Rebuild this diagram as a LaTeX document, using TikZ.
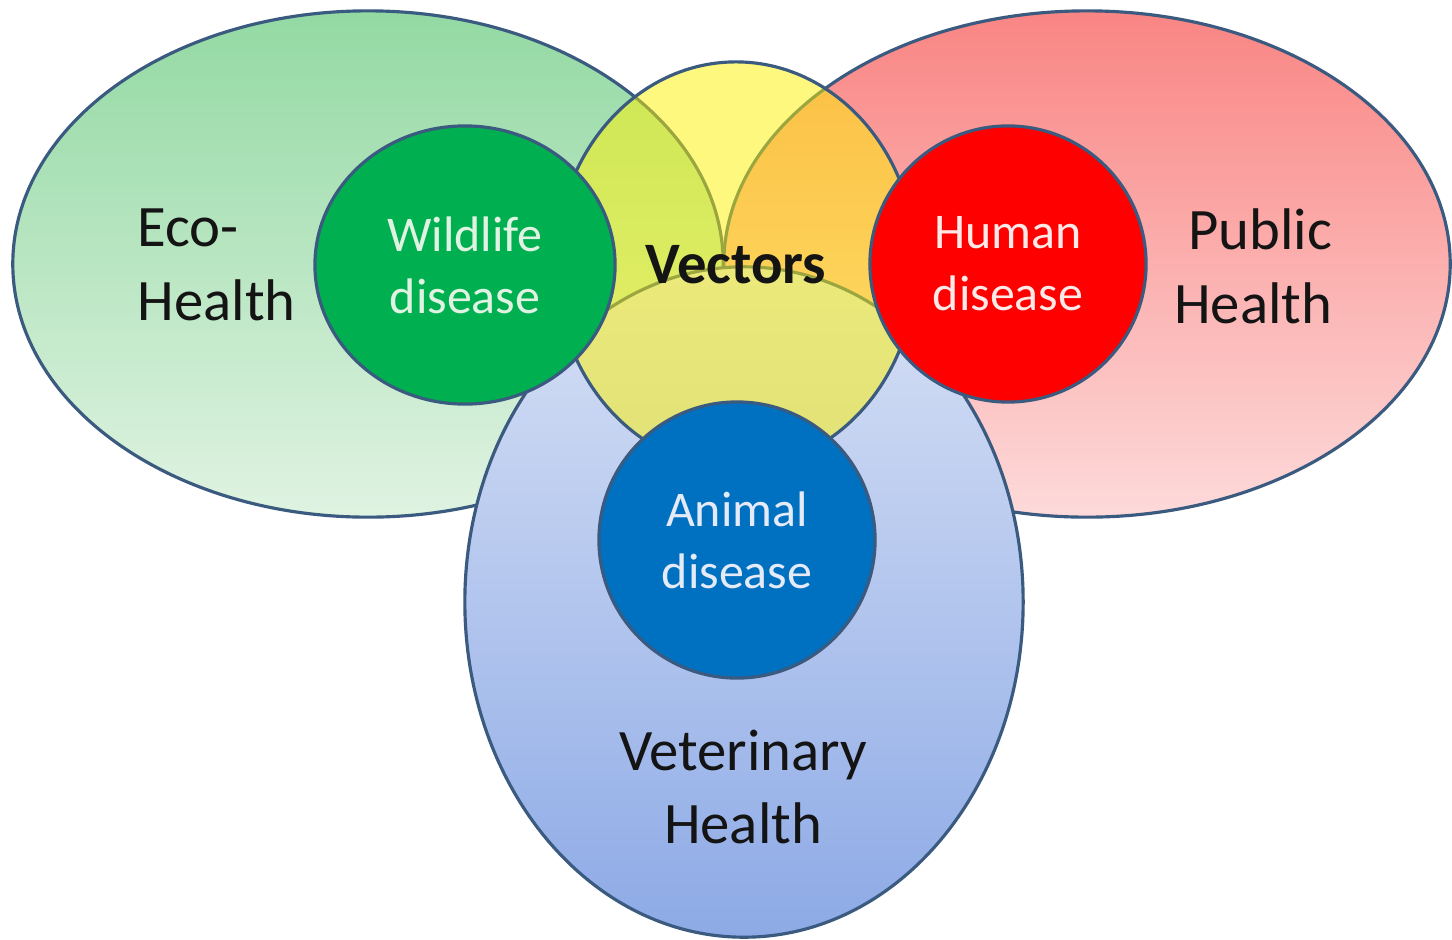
\documentclass[tikz,border=0pt]{standalone}
\usepackage{fontspec}
\setmainfont{Carlito}
\usepackage{tikz}
\usetikzlibrary{shapes.geometric}
\definecolor{contour}{HTML}{3A5A80}
\definecolor{vertclair}{HTML}{93D9A3}
\definecolor{vertpale}{HTML}{E0F3E2}
\definecolor{rougeclair}{HTML}{F98583}
\definecolor{rougepale}{HTML}{FDDADA}
\definecolor{bleupale}{HTML}{D8E1F5}
\definecolor{bleuclair}{HTML}{8DAAE6}
\definecolor{vertvif}{HTML}{00B050}
\definecolor{rougevif}{HTML}{FF0000}
\definecolor{bleuvif}{HTML}{0070C0}
\definecolor{texte}{HTML}{141414}

\begin{document}
\begin{tikzpicture}[x=0.01cm, y=-0.01cm,
    font=\fontsize{16.7}{21}\selectfont,
    domaine/.style={ellipse, draw=contour, line width=0.9pt, inner sep=0pt},
    vecteur/.style={ellipse, draw=contour, line width=0.9pt, inner sep=0pt,
      fill=yellow, fill opacity=0.5, draw opacity=1, text opacity=1,
      minimum width=3.60cm, minimum height=4.06cm, font=\fontsize{16.7}{21}\selectfont\bfseries},
    maladie/.style={circle, draw=contour, line width=0.9pt, inner sep=0pt,
      minimum size=2.76cm, align=center, font=\fontsize{14.2}{17.6}\selectfont},
    etiquette/.style={inner sep=0pt, text=texte}
  ]
  \useasboundingbox (0,0) rectangle (1452,939);
  \node[domaine, minimum width=7.10cm, minimum height=5.06cm,
    top color=vertclair, bottom color=vertpale] (eco) at (368,264) {};
  \node[domaine, minimum width=7.26cm, minimum height=5.06cm,
    top color=rougeclair, bottom color=rougepale] (public) at (1087,264) {};
  \node[domaine, minimum width=5.58cm, minimum height=6.70cm,
    top color=bleupale, bottom color=bleuclair] (veto) at (744,602) {};
  \node[vecteur, text=texte] (vect) at (736,265) {Vectors};
  \node[maladie, ellipse, minimum width=3.00cm, minimum height=2.78cm,
    fill=vertvif, text=vertpale] (sauvage) at (465,265) {Wildlife\\disease};
  \node[maladie, fill=rougevif, text=rougepale!60] (humain) at (1008,264) {Human\\disease};
  \node[maladie, fill=bleuvif, text=bleupale!70] (animal) at (737,540) {Animal\\disease};
  \node[etiquette, anchor=west, align=left] (ecolab) at (137,265) {Eco-\\Health};
  \node[etiquette, anchor=east, align=right] (publab) at (1333,266) {Public\\Health};
  \node[etiquette, align=center] (vetolab) at (743,787) {Veterinary\\Health};
\end{tikzpicture}
\end{document}
